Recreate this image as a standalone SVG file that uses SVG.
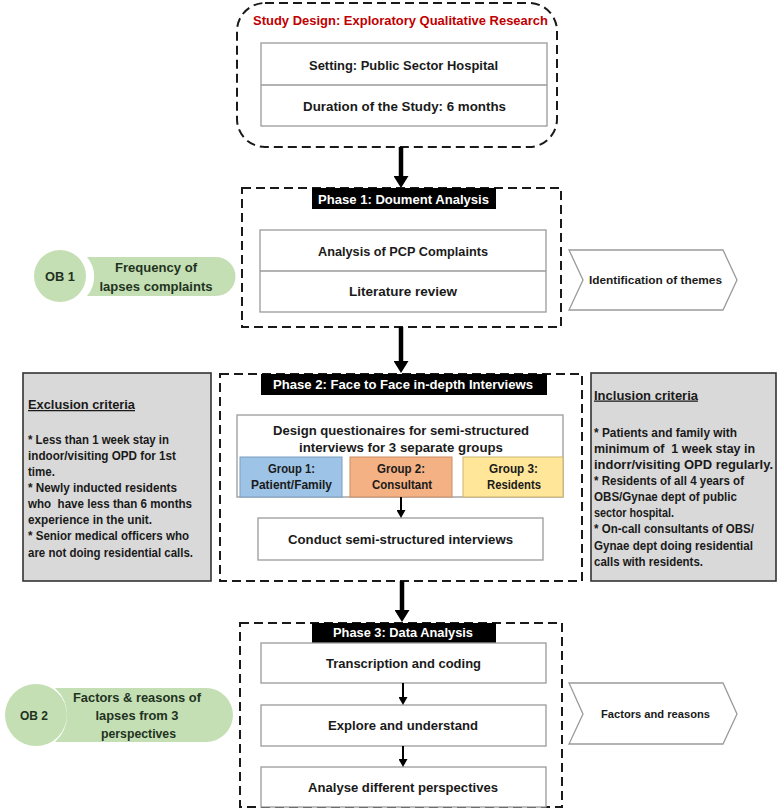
<svg xmlns="http://www.w3.org/2000/svg" width="777" height="811" viewBox="0 0 777 811">
<style>
text{font-family:"Liberation Sans",Arial,sans-serif;font-weight:bold;fill:#1a1a1a;font-size:12.5px}
.c{text-anchor:middle}
.hd{fill:#fff}
.red{fill:#C00000;font-size:13.5px}
.sm{font-size:11px}
.dash{fill:none;stroke:#1a1a1a;stroke-width:2;stroke-dasharray:9 5}
.box{fill:#fff;stroke:#9a9a9a;stroke-width:1.3}
.crit{fill:#D9D9D9;stroke:#333;stroke-width:1.6}
.green{fill:#C5DFB4}
.gt{fill:#1f331f}
.chev{fill:#fff;stroke:#9a9a9a;stroke-width:1.3}
.big{stroke:#000;stroke-width:4.5;fill:none}
.small{stroke:#000;stroke-width:2;fill:none}
</style>
<defs>
<marker id="ah" viewBox="0 0 12 15" markerWidth="12" markerHeight="15" refX="2" refY="7.5" orient="auto" markerUnits="userSpaceOnUse"><path d="M0,0 L12,7.5 L0,15 z" fill="#000"/></marker>
<marker id="as" viewBox="0 0 8 9" markerWidth="8" markerHeight="9" refX="1" refY="4.5" orient="auto" markerUnits="userSpaceOnUse"><path d="M0,0 L8,4.5 L0,9 z" fill="#000"/></marker>
</defs>
<rect width="777" height="811" fill="#fff"/>

<g id="study-design">
<rect x="237" y="3" width="320" height="144" rx="28" class="dash" stroke-dasharray="10 6"/>
<text x="400.5" y="25" class="c red" textLength="295" lengthAdjust="spacingAndGlyphs">Study Design: Exploratory Qualitative Research</text>
<rect x="261" y="43" width="286" height="83" class="box"/>
<line x1="261" y1="85" x2="547" y2="85" stroke="#9a9a9a" stroke-width="1.3"/>
<text x="403.5" y="69.5" class="c" textLength="189" lengthAdjust="spacingAndGlyphs">Setting: Public Sector Hospital</text>
<text x="404.5" y="110.5" class="c" textLength="203" lengthAdjust="spacingAndGlyphs">Duration of the Study: 6 months</text>
</g>

<g id="phase1">
<rect x="242" y="188" width="319" height="139" class="dash"/>
<rect x="312" y="188" width="184" height="21" fill="#000"/>
<text x="403.5" y="203.5" class="c hd" textLength="171" lengthAdjust="spacingAndGlyphs">Phase 1: Doument Analysis</text>
<rect x="260" y="230" width="286" height="82" class="box"/>
<line x1="260" y1="271" x2="546" y2="271" stroke="#9a9a9a" stroke-width="1.3"/>
<text x="403" y="255.5" class="c" textLength="170" lengthAdjust="spacingAndGlyphs">Analysis of PCP Complaints</text>
<text x="403" y="295.5" class="c" textLength="108" lengthAdjust="spacingAndGlyphs">Literature review</text>
</g>

<g id="ob1">
<circle cx="60" cy="276" r="26" class="green"/>
<path d="M87,257 L216,257 A19.5,19.5 0 0 1 216,296 L87,296 A30,30 0 0 0 87,257 Z" class="green"/>
<text x="60" y="281" class="c gt" textLength="30" lengthAdjust="spacingAndGlyphs">OB 1</text>
<text x="156" y="271.5" class="c gt" textLength="82" lengthAdjust="spacingAndGlyphs">Frequency of</text>
<text x="156" y="290.5" class="c gt" textLength="113" lengthAdjust="spacingAndGlyphs">lapses complaints</text>
</g>

<g id="themes">
<path d="M569,250 L723,250 L737,280 L723,310 L569,310 L583,280 Z" class="chev"/>
<text x="655.5" y="284" class="c sm" textLength="133" lengthAdjust="spacingAndGlyphs">Identification of themes</text>
</g>

<g id="exclusion">
<rect x="23" y="373" width="188" height="208" class="crit"/>
<text x="28" y="409" textLength="107" lengthAdjust="spacingAndGlyphs" text-decoration="underline">Exclusion criteria</text>
<text x="28" y="443.5" textLength="141" lengthAdjust="spacingAndGlyphs">* Less than 1 week stay in</text>
<text x="28" y="460" textLength="148" lengthAdjust="spacingAndGlyphs">indoor/visiting OPD for 1st</text>
<text x="28" y="476" textLength="27" lengthAdjust="spacingAndGlyphs">time.</text>
<text x="28" y="491.5" textLength="149" lengthAdjust="spacingAndGlyphs">* Newly inducted residents</text>
<text x="28" y="508" textLength="164" lengthAdjust="spacingAndGlyphs" xml:space="preserve">who  have less than 6 months</text>
<text x="28" y="524" textLength="124" lengthAdjust="spacingAndGlyphs">experience in the unit.</text>
<text x="28" y="540" textLength="161" lengthAdjust="spacingAndGlyphs">* Senior medical officers who</text>
<text x="28" y="556.5" textLength="165" lengthAdjust="spacingAndGlyphs">are not doing residential calls.</text>
</g>

<g id="phase2">
<rect x="220" y="374" width="362" height="207" class="dash"/>
<rect x="261" y="374" width="286" height="21" fill="#000"/>
<text x="403" y="389" class="c hd" textLength="260" lengthAdjust="spacingAndGlyphs">Phase 2: Face to Face in-depth Interviews</text>
<rect x="237" y="415" width="326" height="82" class="box"/>
<text x="401" y="434.5" class="c" textLength="256" lengthAdjust="spacingAndGlyphs">Design questionaires for semi-structured</text>
<text x="401" y="451.5" class="c" textLength="204" lengthAdjust="spacingAndGlyphs">interviews for 3 separate groups</text>
</g>

<g id="group1">
<rect x="240" y="457" width="102" height="40" fill="#9DC3E6" stroke="#7a9fbf" stroke-width="1"/>
<text x="291.5" y="473" class="c" textLength="47" lengthAdjust="spacingAndGlyphs">Group 1:</text>
<text x="291.5" y="489" class="c" textLength="81" lengthAdjust="spacingAndGlyphs">Patient/Family</text>
</g>
<g id="group2">
<rect x="350" y="457" width="102" height="40" fill="#F4B183" stroke="#c98e66" stroke-width="1"/>
<text x="401" y="473" class="c" textLength="48" lengthAdjust="spacingAndGlyphs">Group 2:</text>
<text x="402" y="489" class="c" textLength="60" lengthAdjust="spacingAndGlyphs">Consultant</text>
</g>
<g id="group3">
<rect x="463" y="457" width="100" height="40" fill="#FFE699" stroke="#cdb56e" stroke-width="1"/>
<text x="513.5" y="473" class="c" textLength="49" lengthAdjust="spacingAndGlyphs">Group 3:</text>
<text x="514" y="489" class="c" textLength="54" lengthAdjust="spacingAndGlyphs">Residents</text>
</g>

<g id="conduct">
<rect x="258" y="518" width="285" height="42" class="box"/>
<text x="400.5" y="543.5" class="c" textLength="225" lengthAdjust="spacingAndGlyphs">Conduct semi-structured interviews</text>
</g>

<g id="inclusion">
<rect x="591" y="373" width="185" height="208" class="crit"/>
<text x="594" y="399.5" textLength="104" lengthAdjust="spacingAndGlyphs" text-decoration="underline">Inclusion criteria</text>
<text x="594" y="436.5" textLength="143" lengthAdjust="spacingAndGlyphs">* Patients and family with</text>
<text x="594" y="452.5" textLength="161" lengthAdjust="spacingAndGlyphs" xml:space="preserve">minimum of  1 week stay in</text>
<text x="594" y="469" textLength="179" lengthAdjust="spacingAndGlyphs">indorr/visiting OPD regularly.</text>
<text x="594" y="485" textLength="150" lengthAdjust="spacingAndGlyphs">* Residents of all 4 years of</text>
<text x="594" y="501" textLength="143" lengthAdjust="spacingAndGlyphs">OBS/Gynae dept of public</text>
<text x="594" y="517" textLength="80" lengthAdjust="spacingAndGlyphs">sector hospital.</text>
<text x="594" y="533" textLength="160" lengthAdjust="spacingAndGlyphs">* On-call consultants of OBS/</text>
<text x="594" y="549.5" textLength="159" lengthAdjust="spacingAndGlyphs">Gynae dept doing residential</text>
<text x="594" y="565.5" textLength="109" lengthAdjust="spacingAndGlyphs">calls with residents.</text>
</g>

<g id="phase3">
<rect x="240" y="623" width="322" height="184" class="dash"/>
<rect x="312" y="623" width="184" height="20" fill="#000"/>
<text x="403" y="637" class="c hd" textLength="140" lengthAdjust="spacingAndGlyphs">Phase 3: Data Analysis</text>
</g>
<g id="transcription">
<rect x="261" y="643" width="285" height="40" class="box"/>
<text x="403.5" y="667.5" class="c" textLength="155" lengthAdjust="spacingAndGlyphs">Transcription and coding</text>
</g>
<g id="explore">
<rect x="261" y="705" width="285" height="41" class="box"/>
<text x="403" y="729.5" class="c" textLength="150" lengthAdjust="spacingAndGlyphs">Explore and understand</text>
</g>
<g id="analyse">
<rect x="261" y="767" width="285" height="40" class="box"/>
<text x="403" y="791.5" class="c" textLength="190" lengthAdjust="spacingAndGlyphs">Analyse different perspectives</text>
</g>

<g id="ob2">
<circle cx="36" cy="715" r="31" class="green"/>
<path d="M55,688 L206,688 A27,27 0 0 1 206,742 L55,742 A36,36 0 0 0 55,688 Z" class="green"/>
<text x="34" y="719.5" class="c gt" textLength="28" lengthAdjust="spacingAndGlyphs">OB 2</text>
<text x="137" y="701.5" class="c gt" textLength="128" lengthAdjust="spacingAndGlyphs">Factors &amp; reasons of</text>
<text x="137" y="719.5" class="c gt" textLength="83" lengthAdjust="spacingAndGlyphs">lapses from 3</text>
<text x="138.5" y="737.5" class="c gt" textLength="75" lengthAdjust="spacingAndGlyphs">perspectives</text>
</g>

<g id="factors">
<path d="M569,683 L723,683 L737,714 L723,744 L569,744 L583,714 Z" class="chev"/>
<text x="655.5" y="718" class="c sm" textLength="109" lengthAdjust="spacingAndGlyphs">Factors and reasons</text>
</g>

<g id="connectors">
<line x1="401" y1="147" x2="401" y2="178" class="big" marker-end="url(#ah)"/>
<line x1="401" y1="327" x2="401" y2="363" class="big" marker-end="url(#ah)"/>
<line x1="402" y1="581" x2="402" y2="612" class="big" marker-end="url(#ah)"/>
<line x1="401" y1="497" x2="401" y2="511" class="small" marker-end="url(#as)"/>
<line x1="403" y1="683" x2="403" y2="698" class="small" marker-end="url(#as)"/>
<line x1="403" y1="746" x2="403" y2="760" class="small" marker-end="url(#as)"/>
</g>
</svg>
